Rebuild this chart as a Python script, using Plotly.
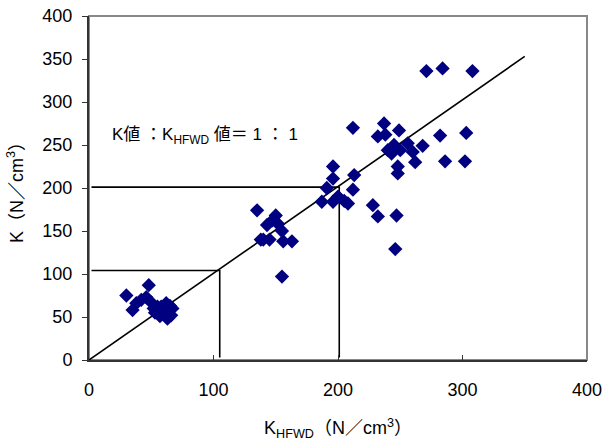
import plotly.graph_objects as go

k_hfwd = [30, 48, 35, 38, 42, 46, 50, 52, 53, 57, 58, 60, 62, 63, 65, 66, 67, 55,
          135, 140, 143, 147, 150, 152, 155, 156, 163, 155, 145, 138,
          187, 191, 196, 196, 196, 208, 212, 213, 200, 205,
          212, 228, 232, 232, 237, 238, 240, 245, 247, 246, 248, 248, 249, 250,
          256, 262, 268, 260, 271, 284, 308, 282, 303, 286, 302, 243]
k_val = [75, 87, 58, 66, 70, 73, 67, 60, 55, 51, 62, 57, 66, 48, 63, 52, 60, 62,
         174, 140, 157, 162, 168, 158, 150, 138, 138, 97, 140, 140,
         184, 200, 211, 225, 184, 182, 198, 215, 190, 185,
         270, 180, 167, 260, 275, 262, 244, 250, 168, 129, 225, 217, 267, 244,
         252, 230, 249, 242, 336, 339, 336, 261, 264, 231, 231, 240]

line_x = [0, 350]
line_y = [0, 353]
guide1_x = [2, 105, 105]
guide1_y = [104, 104, 3]
guide2_x = [2, 201, 201]
guide2_y = [201, 201, 3]

fig = go.Figure()
for gx, gy in [(guide1_x, guide1_y), (guide2_x, guide2_y), (line_x, line_y)]:
    fig.add_trace(go.Scatter(x=gx, y=gy, mode="lines",
                             line=dict(color="black", width=1.6),
                             showlegend=False, hoverinfo="skip"))
fig.add_trace(go.Scatter(x=k_hfwd, y=k_val, mode="markers",
                         marker=dict(symbol="diamond", size=11, color="#000080"),
                         showlegend=False))

font_main = "Liberation Sans, Arial, Noto Sans CJK JP"
fig.add_annotation(x=93, y=261, xref="x", yref="y", showarrow=False,
                   text="K値 ：K<sub>HFWD</sub> 値＝ 1 ： 1",
                   font=dict(size=17, color="black", family=font_main))

fig.add_shape(type="rect", xref="x domain", yref="y domain", x0=0, y0=0, x1=1, y1=1,
              line=dict(color="#888888", width=2), layer="below")

fig.update_layout(
    width=604, height=441,
    margin=dict(l=89, r=17, t=16, b=81),
    plot_bgcolor="white", paper_bgcolor="white",
    font=dict(family=font_main, size=17, color="black"),
    xaxis=dict(range=[0, 400], tickvals=[0, 100, 200, 300, 400], showgrid=False, zeroline=False,
               showline=True, linecolor="#333333", linewidth=2, ticks="inside", ticklen=5,
               tickcolor="#333333", automargin=False, ticklabelstandoff=12,
               title=dict(text="K<sub>HFWD</sub>（N／cm<sup>3</sup>）", standoff=26, font=dict(size=18)),
               tickfont=dict(size=18)),
    yaxis=dict(range=[0, 400], tickvals=list(range(0, 401, 50)), showgrid=False, zeroline=False,
               showline=True, linecolor="#333333", linewidth=2, ticks="outside", ticklen=5,
               tickcolor="#333333", automargin=False, ticklabelstandoff=6,
               title=dict(text="K（N／cm<sup>3</sup>）", standoff=14, font=dict(size=18)),
               tickfont=dict(size=18)),
)
fig.write_html("out.html")
